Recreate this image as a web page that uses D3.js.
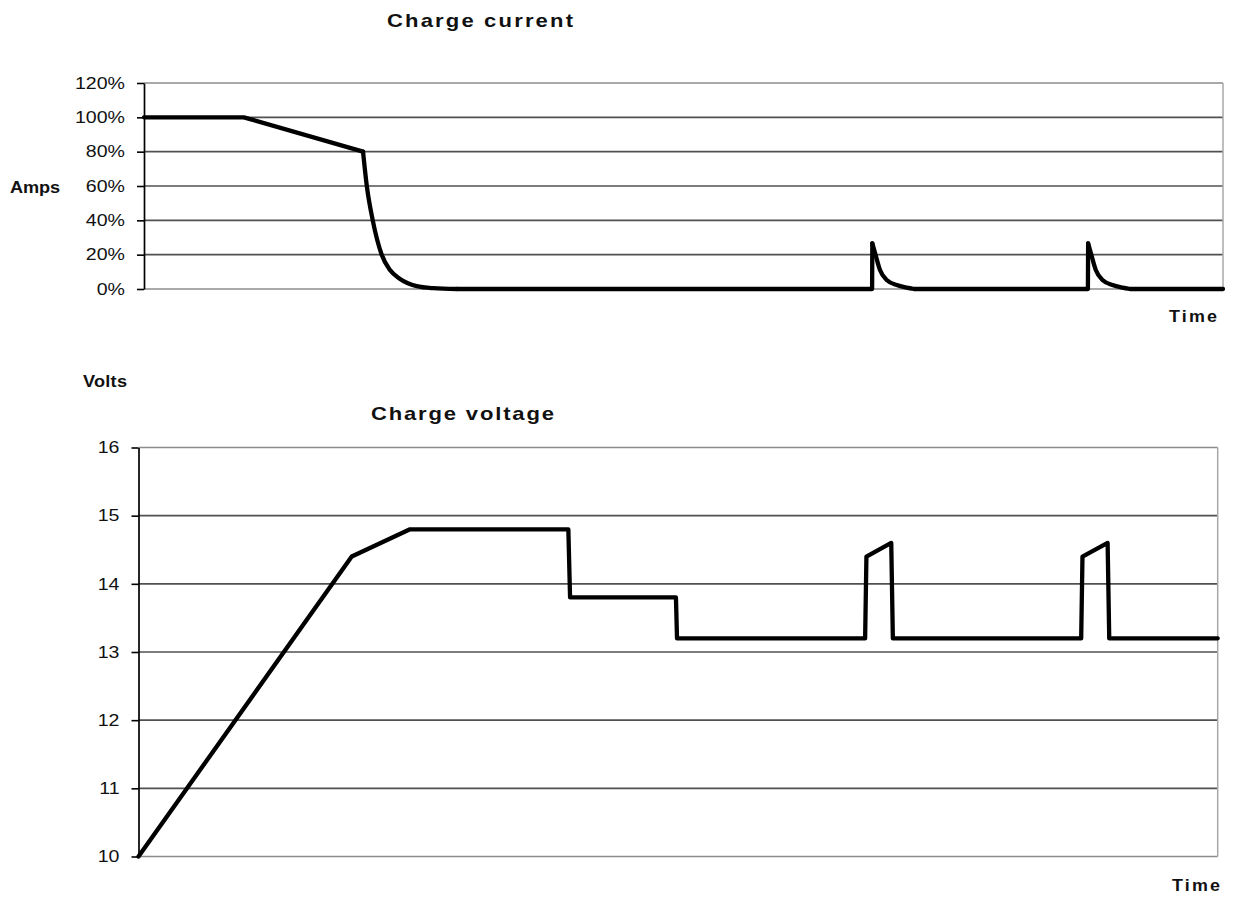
<!DOCTYPE html>
<html><head><meta charset="utf-8">
<script src="https://cdn.jsdelivr.net/npm/d3@7"></script>
<style>
body{margin:0;background:#fff}
svg{display:block}
text{font-family:"Liberation Sans",Arial,Helvetica,sans-serif;fill:#111}
</style>
</head><body>
<svg id="c" width="1234" height="898"></svg>
<script>
// ---- data ----
const currentTime = [0, 92.5, 203, 206.5, 212, 220.3, 228, 237, 252.7, 268, 290,
  674.8, 675, 677.6, 682.1, 688.3, 697.6, 706.8, 714,
  874.8, 875, 877.6, 882.1, 888.3, 897.6, 906.8, 914, 1000];
const currentPct = [100, 100, 80, 60, 40, 20, 11, 6, 1.7, 0.5, 0,
  0, 26.6, 20.8, 11.1, 5.2, 2.3, 0.8, 0,
  0, 26.6, 20.8, 11.1, 5.2, 2.3, 0.8, 0, 0];
// index ranges of the current trace that are smooth decays (drawn with a monotone curve)
const currentSmooth = [[2, 10], [12, 18], [20, 26]];
const voltageTime = [0, 197.6, 251.6, 398.3, 399.9, 498, 499, 673.3, 674.5, 697.5, 699,
  873.5, 874.7, 898, 899.5, 1000];
const voltageValue = [10, 14.4, 14.8, 14.8, 13.8, 13.8, 13.2, 13.2, 14.4, 14.6, 13.2,
  13.2, 14.4, 14.6, 13.2, 13.2];
const currentTicks = [0, 20, 40, 60, 80, 100, 120];
const voltageTicks = [10, 11, 12, 13, 14, 15, 16];
const titles = ["Charge current", "Charge voltage"];
const yLabels = ["Amps", "Volts"];
const xLabel = "Time";

const svg = d3.select("#c");

function panel(cfg) {
  const x = d3.scaleLinear().domain([0, 1000]).range([cfg.x0, cfg.x1]);
  const y = d3.scaleLinear().domain(cfg.yDomain).range([cfg.yBottom, cfg.yTop]);
  const g = svg.append("g");
  const top = cfg.yDomain[1], bot = cfg.yDomain[0];
  // grid lines
  g.selectAll("line.grid").data(cfg.ticks).join("line")
    .attr("class", "grid")
    .attr("x1", cfg.x0).attr("x2", cfg.x1)
    .attr("y1", d => y(d)).attr("y2", d => y(d))
    .attr("stroke", d => (d === top || d === bot) ? "#8c8c8c" : "#505050")
    .attr("stroke-width", 1.6);
  // right border
  g.append("line").attr("x1", cfg.x1).attr("x2", cfg.x1)
    .attr("y1", cfg.yTop).attr("y2", cfg.yBottom)
    .attr("stroke", "#a8a8a8").attr("stroke-width", 1.5);
  // left axis
  const ax = g.append("g").attr("transform", `translate(${cfg.x0},0)`)
    .call(d3.axisLeft(y).tickValues(cfg.ticks).tickFormat(cfg.fmt).tickSizeInner(7).tickSizeOuter(0).tickPadding(12));
  ax.select(".domain").attr("stroke", "#000").attr("stroke-width", 1.7);
  ax.selectAll(".tick line").attr("stroke", "#000").attr("stroke-width", 1.6);
  ax.selectAll(".tick text")
    .style("font-size", "16.3px").attr("fill", "#111")
    .attr("transform", "scale(1.2,1)")
    .attr("x", -(cfg.labelGap) / 1.2);
  // data line: linear pieces plus monotone decay pieces
  const pts = cfg.times.map((t, i) => [t, cfg.values[i]]);
  const lin = d3.line().x(d => x(d[0])).y(d => y(d[1])).curve(d3.curveLinear);
  const mono = d3.line().x(d => x(d[0])).y(d => y(d[1])).curve(d3.curveMonotoneX);
  const smooth = cfg.smooth || [];
  let pieces = [], start = 0;
  smooth.forEach(([a, b]) => {
    pieces.push({d: pts.slice(start, a + 1), gen: lin});
    pieces.push({d: pts.slice(a, b + 1), gen: mono});
    start = b;
  });
  pieces.push({d: pts.slice(start), gen: lin});
  g.selectAll("path.trace").data(pieces).join("path")
    .attr("class", "trace")
    .attr("d", p => p.gen(p.d)).attr("fill", "none")
    .attr("stroke", "#000").attr("stroke-width", 4.3)
    .attr("stroke-linejoin", "round").attr("stroke-linecap", "round");
  return {x, y};
}

panel({x0: 144, x1: 1223, yTop: 83, yBottom: 289, yDomain: [0, 120],
  ticks: currentTicks, fmt: d => d + "%", labelGap: 19,
  times: currentTime, values: currentPct, smooth: currentSmooth});
panel({x0: 138.5, x1: 1217.7, yTop: 447.5, yBottom: 856.5, yDomain: [10, 16],
  ticks: voltageTicks, fmt: d => d, labelGap: 19,
  times: voltageTime, values: voltageValue});

// bold label, glyphs widened by sx and spacing fitted to the target width
function label(txt, x, y, size, sx, width) {
  svg.append("text").text(txt)
    .attr("transform", `translate(${x},${y}) scale(${sx},1)`)
    .style("font-size", size + "px").style("font-weight", "bold")
    .attr("textLength", width / sx).attr("lengthAdjust", "spacing");
}
label(titles[0], 387, 27, 19, 1.16, 186);
label(titles[1], 371, 420, 19, 1.16, 183);
label(yLabels[0], 10, 193, 16.5, 1.1, 50);
label(yLabels[1], 83, 387, 16.5, 1.1, 44);
label(xLabel, 1169, 322, 16, 1.12, 48);
label(xLabel, 1172, 891, 16, 1.12, 48);
</script>
</body></html>
